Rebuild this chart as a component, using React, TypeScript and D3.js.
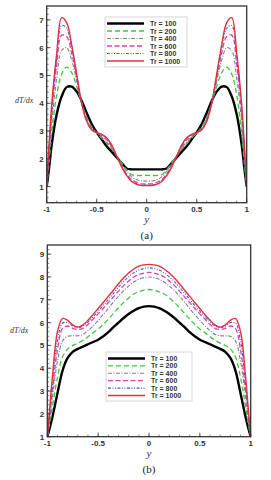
import * as d3 from 'd3'
import * as React from 'react'

// y positions (wall to wall)
const yPos = [-1, -0.975, -0.95, -0.9, -0.85, -0.8, -0.75, -0.7, -0.65, -0.6, -0.55, -0.5, -0.45, -0.4, -0.35, -0.3, -0.25, -0.2, -0.15, -0.1, -0.05, 0,
  0.05, 0.1, 0.15, 0.2, 0.25, 0.3, 0.35, 0.4, 0.45, 0.5, 0.55, 0.6, 0.65, 0.7, 0.75, 0.8, 0.85, 0.9, 0.95, 0.975, 1]

const labels = ['Tr = 100', 'Tr = 200', 'Tr = 400', 'Tr = 600', 'Tr = 800', 'Tr = 1000']

// panel (a)
const a100 = [1.0, 1.7, 2.5, 3.6, 4.25, 4.58, 4.6, 4.42, 4.08, 3.65, 3.25, 2.95, 2.7, 2.45, 2.25, 2.05, 1.85, 1.65, 1.62, 1.62, 1.62, 1.62,
  1.62, 1.62, 1.62, 1.65, 1.85, 2.05, 2.25, 2.45, 2.7, 2.95, 3.25, 3.65, 4.08, 4.42, 4.6, 4.58, 4.25, 3.6, 2.5, 1.7, 1.0]
const a200 = [1.0, 1.9, 2.9, 4.3, 5.05, 5.3, 5.1, 4.6, 4.0, 3.5, 3.15, 2.92, 2.75, 2.55, 2.35, 2.1, 1.85, 1.6, 1.43, 1.4, 1.4, 1.4,
  1.4, 1.4, 1.43, 1.6, 1.85, 2.1, 2.35, 2.55, 2.75, 2.92, 3.15, 3.5, 4.0, 4.6, 5.1, 5.3, 5.05, 4.3, 2.9, 1.9, 1.0]
const a400 = [1.0, 2.1, 3.3, 4.9, 5.9, 6.0, 5.55, 4.8, 4.0, 3.45, 3.1, 2.92, 2.78, 2.6, 2.38, 2.1, 1.8, 1.55, 1.35, 1.25, 1.2, 1.2,
  1.2, 1.25, 1.35, 1.55, 1.8, 2.1, 2.38, 2.6, 2.78, 2.92, 3.1, 3.45, 4.0, 4.8, 5.55, 6.0, 5.9, 4.9, 3.3, 2.1, 1.0]
const a600 = [1.0, 2.3, 3.6, 5.4, 6.45, 6.4, 5.8, 4.9, 4.0, 3.4, 3.05, 2.93, 2.83, 2.68, 2.43, 2.1, 1.75, 1.45, 1.25, 1.15, 1.1, 1.1,
  1.1, 1.15, 1.25, 1.45, 1.75, 2.1, 2.43, 2.68, 2.83, 2.93, 3.05, 3.4, 4.0, 4.9, 5.8, 6.4, 6.45, 5.4, 3.6, 2.3, 1.0]
const a800 = [1.05, 2.45, 3.8, 5.6, 6.8, 6.7, 6.0, 5.0, 4.0, 3.35, 3.05, 2.95, 2.87, 2.74, 2.48, 2.1, 1.72, 1.42, 1.2, 1.1, 1.06, 1.06,
  1.06, 1.1, 1.2, 1.42, 1.72, 2.1, 2.48, 2.74, 2.87, 2.95, 3.05, 3.35, 4.0, 5.0, 6.0, 6.7, 6.8, 5.6, 3.8, 2.45, 1.05]
const a1000 = [1.1, 2.6, 3.95, 5.8, 7.08, 6.9, 6.1, 5.05, 4.0, 3.35, 3.05, 2.95, 2.88, 2.76, 2.5, 2.1, 1.7, 1.4, 1.18, 1.08, 1.04, 1.04,
  1.04, 1.08, 1.18, 1.4, 1.7, 2.1, 2.5, 2.76, 2.88, 2.95, 3.05, 3.35, 4.0, 5.05, 6.1, 6.9, 7.08, 5.8, 3.95, 2.6, 1.1]

// panel (b)
const b100 = [1.0, 1.4, 1.85, 2.9, 3.9, 4.45, 4.72, 4.85, 4.95, 5.05, 5.15, 5.25, 5.4, 5.58, 5.8, 6.0, 6.2, 6.38, 6.52, 6.63, 6.7, 6.72,
  6.7, 6.63, 6.52, 6.38, 6.2, 6.0, 5.8, 5.58, 5.4, 5.25, 5.15, 5.05, 4.95, 4.85, 4.72, 4.45, 3.9, 2.9, 1.85, 1.4, 1.0]
const b200 = [1.0, 1.6, 2.3, 3.6, 4.5, 4.85, 5.0, 5.1, 5.22, 5.38, 5.55, 5.72, 5.92, 6.15, 6.4, 6.65, 6.88, 7.08, 7.25, 7.35, 7.42, 7.45,
  7.42, 7.35, 7.25, 7.08, 6.88, 6.65, 6.4, 6.15, 5.92, 5.72, 5.55, 5.38, 5.22, 5.1, 5.0, 4.85, 4.5, 3.6, 2.3, 1.6, 1.0]
const b400 = [1.0, 1.8, 2.7, 4.3, 5.2, 5.4, 5.42, 5.42, 5.48, 5.65, 5.85, 6.1, 6.35, 6.62, 6.9, 7.15, 7.4, 7.6, 7.78, 7.9, 7.97, 8.0,
  7.97, 7.9, 7.78, 7.6, 7.4, 7.15, 6.9, 6.62, 6.35, 6.1, 5.85, 5.65, 5.48, 5.42, 5.42, 5.4, 5.2, 4.3, 2.7, 1.8, 1.0]
const b600 = [1.0, 1.95, 3.0, 4.8, 5.75, 5.85, 5.75, 5.7, 5.75, 5.92, 6.15, 6.38, 6.62, 6.88, 7.12, 7.38, 7.62, 7.82, 8.0, 8.1, 8.17, 8.2,
  8.17, 8.1, 8.0, 7.82, 7.62, 7.38, 7.12, 6.88, 6.62, 6.38, 6.15, 5.92, 5.75, 5.7, 5.75, 5.85, 5.75, 4.8, 3.0, 1.95, 1.0]
const b800 = [1.0, 2.1, 3.3, 5.2, 5.97, 6.0, 5.85, 5.78, 5.85, 6.02, 6.25, 6.5, 6.75, 7.02, 7.28, 7.55, 7.8, 8.0, 8.18, 8.3, 8.37, 8.4,
  8.37, 8.3, 8.18, 8.0, 7.8, 7.55, 7.28, 7.02, 6.75, 6.5, 6.25, 6.02, 5.85, 5.78, 5.85, 6.0, 5.97, 5.2, 3.3, 2.1, 1.0]
const b1000 = [1.0, 2.3, 3.6, 5.6, 6.18, 6.1, 5.9, 5.8, 5.9, 6.1, 6.35, 6.62, 6.88, 7.15, 7.42, 7.7, 7.95, 8.17, 8.35, 8.47, 8.53, 8.55,
  8.53, 8.47, 8.35, 8.17, 7.95, 7.7, 7.42, 7.15, 6.88, 6.62, 6.35, 6.1, 5.9, 5.8, 5.9, 6.1, 6.18, 5.6, 3.6, 2.3, 1.0]

const xTicks = [-1, -0.5, 0, 0.5, 1]
const aTicks = [1, 2, 3, 4, 5, 6, 7]
const bTicks = [1, 2, 3, 4, 5, 6, 7, 8, 9]

type Style = { color: string, width: number, dash: string }
const styles: Style[] = [
  { color: '#000000', width: 2.4, dash: '' },
  { color: '#3cc83c', width: 1.3, dash: '5,3' },
  { color: '#808080', width: 1.1, dash: '4,1.5,1,1.5' },
  { color: '#e040b4', width: 1.3, dash: '5,2.5' },
  { color: '#4a5ad0', width: 1.1, dash: '3,1.5,1,1.5,1,1.5' },
  { color: '#e0303c', width: 1.4, dash: '' },
]

type PanelProps = {
  series: number[][]
  yDomain: [number, number]
  yTicks: number[]
  box: { left: number, right: number, top: number, bottom: number }
  legend: { x: number, y: number, w: number, h: number, row: number }
  caption: string
  labelY: number
  labelX: number
}

const Panel = ({ series, yDomain, yTicks, box, legend, caption, labelY, labelX }: PanelProps) => {
  const x = d3.scaleLinear().domain([-1, 1]).range([box.left, box.right])
  const y = d3.scaleLinear().domain(yDomain).range([box.bottom, box.top])
  const line = d3.line<number>()
    .x((_d, i) => x(yPos[i]))
    .y(d => y(d))
    .curve(d3.curveCatmullRom.alpha(0.5))
  const minorX = d3.range(-1, 1.001, 0.1)
  const minorY = d3.range(Math.ceil(yDomain[0] * 5) / 5, yDomain[1], 0.2)
  return (
    <g>
      <defs>
        <clipPath id={'clip' + caption}>
          <rect x={box.left} y={box.top} width={box.right - box.left} height={box.bottom - box.top} />
        </clipPath>
      </defs>
      <g clipPath={`url(#clip${caption})`}>
        {series.map((s, i) => (
          <path key={i} d={line(s)!} fill="none" stroke={styles[i].color}
            strokeWidth={styles[i].width} strokeDasharray={styles[i].dash} />
        ))}
      </g>
      {/* ticks */}
      {minorX.map((t, i) => (
        <line key={'mx' + i} x1={x(t)} x2={x(t)} y1={box.bottom} y2={box.bottom - 2} stroke="#333" strokeWidth={0.6} />
      ))}
      {minorY.map((t, i) => (
        <line key={'my' + i} x1={box.left} x2={box.left + 2} y1={y(t)} y2={y(t)} stroke="#333" strokeWidth={0.6} />
      ))}
      {xTicks.map(t => (
        <g key={'x' + t}>
          <line x1={x(t)} x2={x(t)} y1={box.bottom} y2={box.bottom - 4} stroke="#333" strokeWidth={0.8} />
          <text x={x(t)} y={box.bottom + 9} textAnchor="middle" fontSize={8} fontWeight="bold"
            fontFamily="Liberation Sans, Arial, sans-serif" fill="#333">{t}</text>
        </g>
      ))}
      {yTicks.map(t => (
        <g key={'y' + t}>
          <line x1={box.left} x2={box.left + 4} y1={y(t)} y2={y(t)} stroke="#333" strokeWidth={0.8} />
          <text x={box.left - 3} y={y(t) + 3} textAnchor="end" fontSize={8} fontWeight="bold"
            fontFamily="Liberation Sans, Arial, sans-serif" fill="#333">{t}</text>
        </g>
      ))}
      <rect x={box.left} y={box.top} width={box.right - box.left} height={box.bottom - box.top}
        fill="none" stroke="#333" strokeWidth={1.3} />
      {/* axis titles */}
      <text x={labelX} y={labelY} fontSize={8} fontStyle="italic" fontFamily="Liberation Serif, serif" fill="#333">dT/dx</text>
      <text x={(box.left + box.right) / 2} y={box.bottom + 20} textAnchor="middle" fontSize={11}
        fontStyle="italic" fontFamily="Liberation Serif, serif" fill="#333">y</text>
      <text x={(box.left + box.right) / 2} y={box.bottom + 36} textAnchor="middle" fontSize={11}
        fontFamily="Liberation Serif, serif" fill="#222">({caption})</text>
      {/* legend */}
      <rect x={legend.x} y={legend.y} width={legend.w} height={legend.h} fill="#fff" stroke="#ccc" strokeWidth={0.8} />
      {labels.map((l, i) => {
        const ry = legend.y + 6.5 + i * legend.row
        return (
          <g key={l}>
            <line x1={legend.x + 2} x2={legend.x + 39} y1={ry} y2={ry} stroke={styles[i].color}
              strokeWidth={styles[i].width} strokeDasharray={styles[i].dash} />
            <text x={legend.x + 45} y={ry + 2.5} fontSize={7} fontWeight="bold"
              fontFamily="Liberation Sans, Arial, sans-serif" fill="#333">{l}</text>
          </g>
        )
      })}
    </g>
  )
}

export default function App() {
  return (
    <svg width={271} height={480} style={{ position: 'absolute', left: 0, top: 0, background: '#fff' }}>
      <Panel series={[a100, a200, a400, a600, a800, a1000]} yDomain={[0.42, 7.5]} yTicks={aTicks}
        box={{ left: 46.7, right: 246.7, top: 6, bottom: 202.7 }}
        legend={{ x: 105, y: 17, w: 82, h: 50, row: 7.5 }} caption="a" labelX={15} labelY={103} />
      <Panel series={[b100, b200, b400, b600, b800, b1000]} yDomain={[1, 9.4]} yTicks={bTicks}
        box={{ left: 47.3, right: 250.7, top: 245, bottom: 436.7 }}
        legend={{ x: 106, y: 352, w: 86, h: 49, row: 7.4 }} caption="b" labelX={10} labelY={333} />
    </svg>
  )
}
